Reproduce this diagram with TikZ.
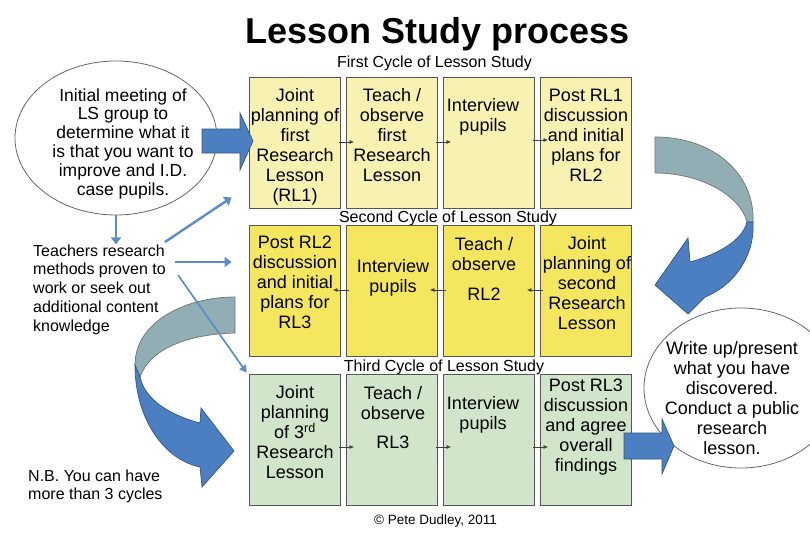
\documentclass[tikz,border=0pt]{standalone}
\usepackage{fontspec}
\setmainfont{Liberation Sans}
\usetikzlibrary{calc,arrows.meta,shapes.geometric}
\definecolor{rowA}{HTML}{F8F2B2}
\definecolor{rowB}{HTML}{F4E65E}
\definecolor{rowC}{HTML}{D0E5CA}
\definecolor{boxline}{HTML}{555555}
\definecolor{bigblue}{HTML}{4C7EC2}
\definecolor{blueline}{HTML}{34577F}
\definecolor{thinblue}{HTML}{5B8DC8}
\definecolor{ribgrey}{HTML}{92AEB5}
\begin{document}
\begin{tikzpicture}[x=1pt,y=-1pt,
  stepbox/.style={draw=boxline,line width=0.8pt,minimum width=91pt,minimum height=131pt,inner sep=0pt},
  boxtext/.style={font=\fontsize{18}{20}\selectfont,align=center,inner sep=0pt},
  cyclelabel/.style={font=\fontsize{16}{18}\selectfont,anchor=base,inner sep=0pt},
  smallarr/.style={draw=black!75,line width=0.7pt,-{Latex[length=4.5pt,width=4pt]}},
  linkarr/.style={draw=thinblue,line width=2.4pt,-{Triangle[length=7pt,width=10pt]}},
  linkthin/.style={draw=thinblue,line width=1.7pt,-{Triangle[length=7pt,width=8pt]}},
  bluefill/.style={fill=bigblue,draw=blueline,line width=0.7pt},
  greyfill/.style={fill=ribgrey,draw=black!55,line width=0.7pt},
  bubble/.style={ellipse,draw=black!60,line width=0.8pt,fill=white,inner sep=0pt}]
\useasboundingbox (0,0) rectangle (810,532);
\fill[white] (0,0) rectangle (810,532);

% title and labels
\node[font=\fontsize{36}{40}\selectfont\bfseries,anchor=base,inner sep=0pt] (title) at (437.5,44) {Lesson Study process};
\node[cyclelabel] (cyc1) at (434.5,68) {First Cycle of Lesson Study};
\node[cyclelabel] (cyc2) at (448,222) {Second Cycle of Lesson Study};
\node[cyclelabel] (cyc3) at (444,371) {Third Cycle of Lesson Study};
\node[font=\fontsize{13.5}{15}\selectfont,inner sep=0pt] (copy) at (435.5,521) {© Pete Dudley, 2011};

% boxes
\node[stepbox,fill=rowA] (a1) at (295,142.5) {};
\node[stepbox,fill=rowA] (a2) at (392,142.5) {};
\node[stepbox,fill=rowA] (a3) at (489,142.5) {};
\node[stepbox,fill=rowA] (a4) at (586,142.5) {};
\node[stepbox,fill=rowB] (b1) at (295,291) {};
\node[stepbox,fill=rowB] (b2) at (392,291) {};
\node[stepbox,fill=rowB] (b3) at (489,291) {};
\node[stepbox,fill=rowB] (b4) at (586,291) {};
\node[stepbox,fill=rowC] (c1) at (295,440) {};
\node[stepbox,fill=rowC] (c2) at (392,440) {};
\node[stepbox,fill=rowC] (c3) at (489,440) {};
\node[stepbox,fill=rowC] (c4) at (586,440) {};

% box texts
\node[boxtext] (ta1) at (295,147) {Joint\\planning of\\first\\Research\\Lesson\\(RL1)};
\node[boxtext] (ta2) at (392,135) {Teach /\\observe\\first\\Research\\Lesson};
\node[boxtext] (ta3) at (483,117) {Interview\\pupils};
\node[boxtext] (ta4) at (586,135) {Post RL1\\discussion\\and initial\\plans for\\RL2};
\node[boxtext] (tb1) at (295,282.5) {Post RL2\\discussion\\and initial\\plans for\\RL3};
\node[boxtext] (tb2) at (393,278) {Interview\\pupils};
\node[boxtext] (tb3) at (484,269) {Teach /\\observe\\[10pt]RL2};
\node[boxtext] (tb4) at (587,283) {Joint\\planning of\\second\\Research\\Lesson};
\node[boxtext] (tc1) at (295,432.5) {Joint\\planning\\of 3\textsuperscript{rd}\\Research\\Lesson};
\node[boxtext] (tc2) at (393,417.5) {Teach /\\observe\\[9pt]RL3};
\node[boxtext] (tc3) at (483,415) {Interview\\pupils};
\node[boxtext] (tc4) at (586,427) {Post RL3\\discussion\\and agree\\overall\\findings};

% small arrows between boxes
\draw[smallarr] ($(a1.east)+(-2,-0.5)$) -- ($(a2.west)+(8,-0.5)$);
\draw[smallarr] ($(a2.east)+(-2,-0.5)$) -- ($(a3.west)+(8,-0.5)$);
\draw[smallarr] ($(a3.east)+(-2,-2.5)$) -- ($(a4.west)+(8,-2.5)$);
\draw[smallarr] ($(b2.west)+(3,-1)$) -- ($(b1.east)+(-8,-1)$);
\draw[smallarr] ($(b3.west)+(3,-1)$) -- ($(b2.east)+(-8,-1)$);
\draw[smallarr] ($(b4.west)+(3,-1)$) -- ($(b3.east)+(-8,-1)$);
\draw[smallarr] ($(c1.east)+(-2,7)$) -- ($(c2.west)+(8,7)$);
\draw[smallarr] ($(c2.east)+(-2,7)$) -- ($(c3.west)+(8,7)$);
\draw[smallarr] ($(c3.east)+(-2,7)$) -- ($(c4.west)+(8,7)$);

% left bubble and notes
\node[bubble,minimum width=202pt,minimum height=154pt] (e1) at (116,138) {};
\node[font=\fontsize{17.5}{18.8}\selectfont,align=center,inner sep=0pt] (e1t) at (123,143.5)
  {Initial meeting of\\LS group to\\determine what it\\is that you want to\\improve and I.D.\\case pupils.};
\node[font=\fontsize{16}{18.7}\selectfont,align=left,anchor=west,inner sep=0pt] (teach) at (33,289.5)
  {Teachers research\\methods proven to\\work or seek out\\additional content\\knowledge};
\node[font=\fontsize{16}{17.5}\selectfont,align=left,anchor=west,inner sep=0pt] (nb) at (28,486.5)
  {N.B. You can have\\more than 3 cycles};

% right bubble
\node[bubble,minimum width=194pt,minimum height=160pt] (e2) at (741,388) {};
\node[font=\fontsize{18}{20}\selectfont,align=center,inner sep=0pt] (e2t) at (732,398)
  {Write up/present\\what you have\\discovered.\\Conduct a public\\research\\lesson.};

% big straight arrows
\filldraw[bluefill] (202,129) -- (240,129) -- (240,113) -- (253,141) -- (240,170) -- (240,153) -- (202,153) -- cycle;
\filldraw[bluefill] (624,433) -- (662,433) -- (662,419) -- (674,446) -- (662,474) -- (662,459) -- (624,459) -- cycle;

% right curved ribbon arrow
\filldraw[greyfill] (655,137) .. controls (715,137) and (755,175) .. (753,222)
  -- (747,222) .. controls (740,195) and (700,173) .. (655,173) -- cycle;
\filldraw[bluefill] (753,222) .. controls (755,255) and (735,285) .. (705,297)
  -- (688,314) -- (655,285) -- (688,238) -- (690,262)
  .. controls (715,255) and (742,242) .. (747,222) -- cycle;

% left curved ribbon arrow
\filldraw[greyfill] (235,297) .. controls (185,297) and (135,322) .. (135,365)
  -- (140,377) .. controls (150,348) and (190,334) .. (235,333) -- cycle;
\filldraw[bluefill] (135,365) .. controls (135,420) and (165,460) .. (200,467)
  -- (202,487) -- (234,451) -- (201,408) -- (200,423)
  .. controls (170,415) and (145,400) .. (140,377) -- cycle;

% thin blue link arrows
\draw[linkarr] (e1.south) -- (e1.south |- teach.north);
\coordinate (s2) at (165,242);
\coordinate (s3) at (175,262);
\coordinate (s4) at (178,275);
\draw[linkarr] (s2) -- ($(a1.south west)+(-17.5,-11)$);
\draw[linkarr] (s3) -- ($(b1.west)+(-17.5,-29)$);
\draw[linkthin] (s4) -- ($(c1.north west)+(-2.5,-1.5)$);
\end{tikzpicture}
\end{document}
